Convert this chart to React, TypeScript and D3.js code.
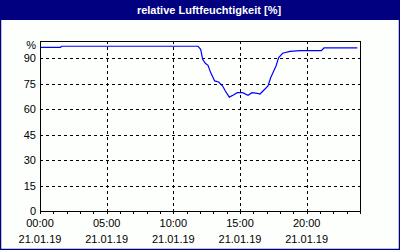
import React from 'react';
import * as d3 from 'd3';

// humidity readings, hour of day (21.01.19) and percent
const hours = [0, 1.55, 1.6, 11.85, 12.05, 12.2, 12.4, 12.6, 12.8, 13.1, 13.4, 13.7, 13.9, 14.2, 14.5, 14.8, 15.2, 15.6, 15.9, 16.3, 16.5, 16.8, 17.1, 17.3, 17.7, 17.9, 18.2, 18.75, 19.5, 21.1, 21.3, 23.8];
const humidity = [96.2, 96.2, 96.9, 96.9, 95.1, 89.2, 86.9, 85.7, 81.4, 76.5, 75.9, 73.5, 70.6, 67, 68.2, 69.6, 69.6, 68.1, 69.6, 69.2, 68.8, 71.2, 73.5, 78.4, 85.3, 90.2, 92.8, 93.9, 94.3, 94.3, 95.9, 95.9];

const yTicks = [0, 15, 30, 45, 60, 75, 90];
const xTicks = [0, 5, 10, 15, 20];
const xTimeLabels = ['00:00', '05:00', '10:00', '15:00', '20:00'];
const dateLabel = '21.01.19';
const title = 'relative Luftfeuchtigkeit [%]';
const unit = '%';

const W = 400;
const H = 250;
const margin = { top: 41, right: 40, bottom: 39, left: 40 };
const font = '"Liberation Sans", Arial, sans-serif';

export default function App() {
  const x = d3.scaleLinear().domain([0, 24]).range([margin.left, W - margin.right]);
  const y = d3.scaleLinear().domain([0, 100]).range([H - margin.bottom, margin.top]);

  const pts = hours.map((h, i) => [h, humidity[i]] as [number, number]);
  const line = d3.line<[number, number]>()
    .x(d => x(d[0]))
    .y(d => y(d[1]));

  const x0 = x(0), x1 = x(24), y0 = y(0), y1 = y(100);
  const minor = d3.range(0, 25);

  return (
    <svg width={W} height={H} style={{ position: 'fixed', left: 0, top: 0 }}>
      <rect x={0} y={0} width={W} height={H} fill="#fcfffc" />
      <rect x={0.5} y={0.5} width={W - 1} height={H - 1} fill="none" stroke="#000080" strokeWidth={1.5} />
      <rect x={0} y={0} width={W} height={20} fill="#000080" />
      <text x={209} y={14} textAnchor="middle" fill="#fff" fontFamily={font} fontWeight="bold" fontSize={11}>
        {title}
      </text>

      {/* grid */}
      {yTicks.filter(t => t > 0).map(t => (
        <line key={'gy' + t} x1={x0} x2={x1} y1={Math.round(y(t)) + 0.5} y2={Math.round(y(t)) + 0.5}
          stroke="#000" strokeDasharray="3,3" shapeRendering="crispEdges" />
      ))}
      {xTicks.filter(t => t > 0).map(t => (
        <line key={'gx' + t} x1={Math.round(x(t)) + 0.5} x2={Math.round(x(t)) + 0.5} y1={y1} y2={y0}
          stroke="#000" strokeDasharray="3,3" shapeRendering="crispEdges" />
      ))}

      {/* hourly ticks */}
      {minor.map(h => (
        <line key={'m' + h} x1={Math.round(x(h)) + 0.5} x2={Math.round(x(h)) + 0.5} y1={y0} y2={y0 + 3}
          stroke="#000" shapeRendering="crispEdges" />
      ))}

      <path d={line(pts) || ''} fill="none" stroke="#0000ff" strokeWidth={1.2} />

      <rect x={x0 + 0.5} y={y1 + 0.5} width={x1 - x0} height={y0 - y1} fill="none" stroke="#000" shapeRendering="crispEdges" />

      {/* y labels */}
      {yTicks.map(t => (
        <text key={'ly' + t} x={36} y={y(t) + 4} textAnchor="end" fontFamily={font} fontSize={11} fill="#000">
          {t}
        </text>
      ))}
      <text x={36} y={y(100) + 8} textAnchor="end" fontFamily={font} fontSize={11} fill="#000">{unit}</text>

      {/* x labels */}
      {xTicks.map((t, i) => (
        <g key={'lx' + t} fontFamily={font} fontSize={11} fill="#000" textAnchor="middle">
          <text x={x(t)} y={227}>{xTimeLabels[i]}</text>
          <text x={x(t)} y={243}>{dateLabel}</text>
        </g>
      ))}
    </svg>
  );
}
